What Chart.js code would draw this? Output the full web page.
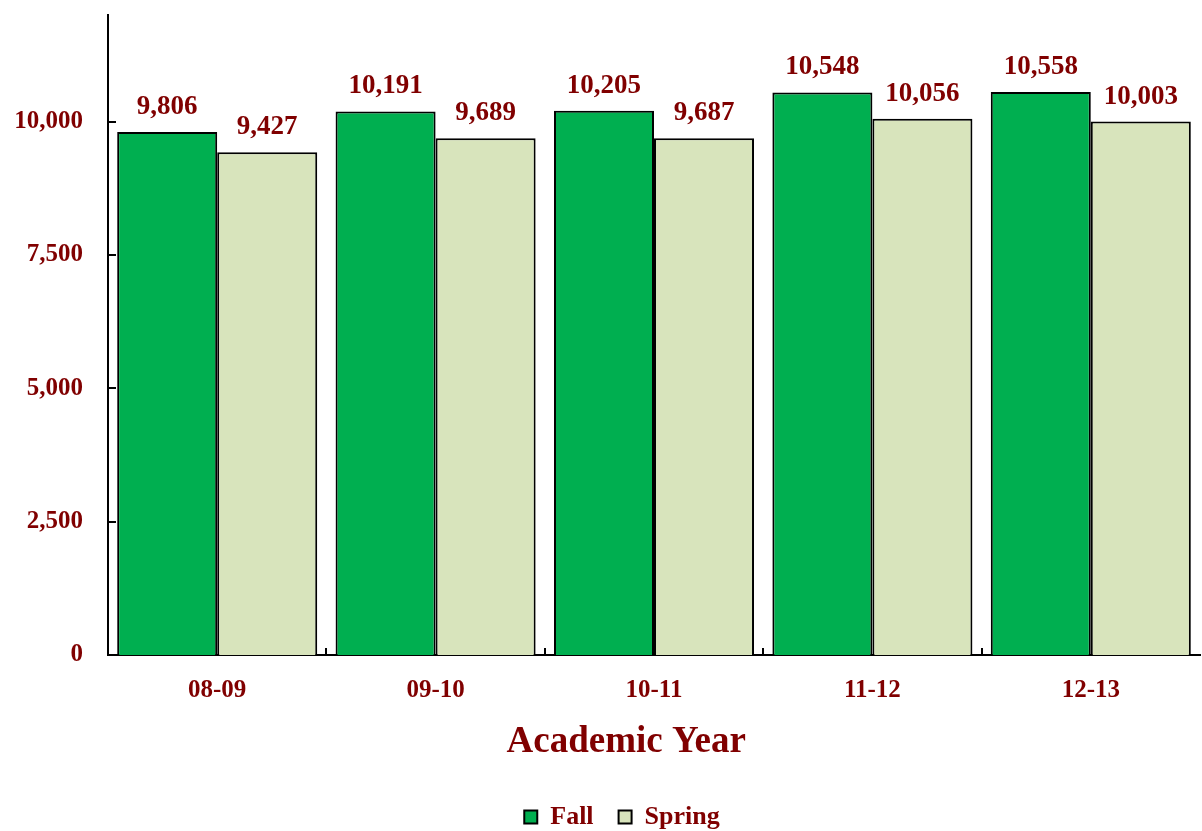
<!DOCTYPE html>
<html>
<head>
<meta charset="utf-8">
<script src="https://cdn.jsdelivr.net/npm/chart.js@4"></script>
<style>
  html, body { margin: 0; padding: 0; background: #fff; }
  #wrap { width: 1202px; height: 831px; }
</style>
</head>
<body>
<div id="wrap"><canvas id="c" width="1202" height="831"></canvas></div>
<script>
const categories = ['08-09', '09-10', '10-11', '11-12', '12-13'];
const fallValues = [9806, 10191, 10205, 10548, 10558];
const springValues = [9427, 9689, 9687, 10056, 10003];
const yTicks = [0, 2500, 5000, 7500, 10000];

const DARK_RED = '#800000';
const FONT = '"Liberation Serif", "Times New Roman", serif';

const valueLabels = {
  id: 'valueLabels',
  afterLayout(chart) {
    if (chart.legend) { chart.legend.left += 44; }
  },
  afterDatasetsDraw(chart) {
    const ctx = chart.ctx;
    ctx.save();
    ctx.font = 'bold 27px ' + FONT;
    ctx.fillStyle = DARK_RED;
    ctx.textAlign = 'center';
    ctx.textBaseline = 'alphabetic';
    chart.data.datasets.forEach((ds, i) => {
      const meta = chart.getDatasetMeta(i);
      meta.data.forEach((bar, j) => {
        ctx.fillText(ds.data[j].toLocaleString('en-US'), bar.x, bar.y - 18);
      });
    });
    ctx.restore();
  },
  afterDraw(chart) {
    const ctx = chart.ctx;
    const y = chart.scales.y, x = chart.scales.x;
    ctx.save();
    ctx.strokeStyle = '#000';
    ctx.lineWidth = 2;
    ctx.beginPath();
    yTicks.forEach(v => {
      const py = Math.round(y.getPixelForValue(v));
      ctx.moveTo(x.left, py);
      ctx.lineTo(x.left + 8, py);
    });
    for (let k = 1; k < categories.length; k++) {
      const px = Math.round((x.getPixelForValue(k - 1) + x.getPixelForValue(k)) / 2);
      ctx.moveTo(px, y.bottom);
      ctx.lineTo(px, y.bottom - 7);
    }
    ctx.stroke();
    ctx.restore();
  }
};

new Chart(document.getElementById('c'), {
  type: 'bar',
  data: {
    labels: categories,
    datasets: [
      { label: 'Fall', data: fallValues, backgroundColor: '#00AF50', borderColor: '#000', borderWidth: 2,
        barPercentage: 1.0, categoryPercentage: 0.916 },
      { label: 'Spring', data: springValues, backgroundColor: '#D8E4BC', borderColor: '#000', borderWidth: 2,
        barPercentage: 1.0, categoryPercentage: 0.916 }
    ]
  },
  options: {
    responsive: false,
    animation: false,
    devicePixelRatio: 1,
    layout: { padding: { top: 15, right: 2, bottom: -9, left: 0 } },
    plugins: {
      legend: {
        position: 'bottom',
        labels: {
          font: { family: FONT, size: 26, weight: 'bold' },
          color: DARK_RED,
          boxWidth: 13,
          boxHeight: 13,
          padding: 25,
          useBorderRadius: false
        }
      },
      tooltip: { enabled: false }
    },
    scales: {
      x: {
        grid: { display: false, drawTicks: false },
        border: { display: true, color: '#000', width: 2 },
        ticks: { font: { family: FONT, size: 25, weight: 'bold' }, color: DARK_RED, padding: 21 },
        title: {
          display: true, text: 'Academic Year\u00A0\u00A0\u00A0\u00A0\u00A0\u00A0',
          font: { family: FONT, size: 37, weight: 'bold' }, color: DARK_RED,
          padding: { top: 0, bottom: 14 }
        },
        afterFit(scale) { scale.height = 124; scale.paddingLeft = 0; scale.paddingRight = 0; }
      },
      y: {
        min: 0, max: 12000,
        grid: { display: false, drawTicks: false },
        border: { display: true, color: '#000', width: 2 },
        afterBuildTicks(scale) { scale.ticks = yTicks.map(v => ({ value: v })); },
        ticks: {
          autoSkip: false,
          font: { family: FONT, size: 25, weight: 'bold' }, color: DARK_RED, padding: 25,
          callback: v => Number(v).toLocaleString('en-US')
        },
        afterFit(scale) { scale.width = 108; scale.paddingTop = 0; scale.paddingBottom = 0; }
      }
    }
  },
  plugins: [valueLabels]
});
</script>
</body>
</html>
